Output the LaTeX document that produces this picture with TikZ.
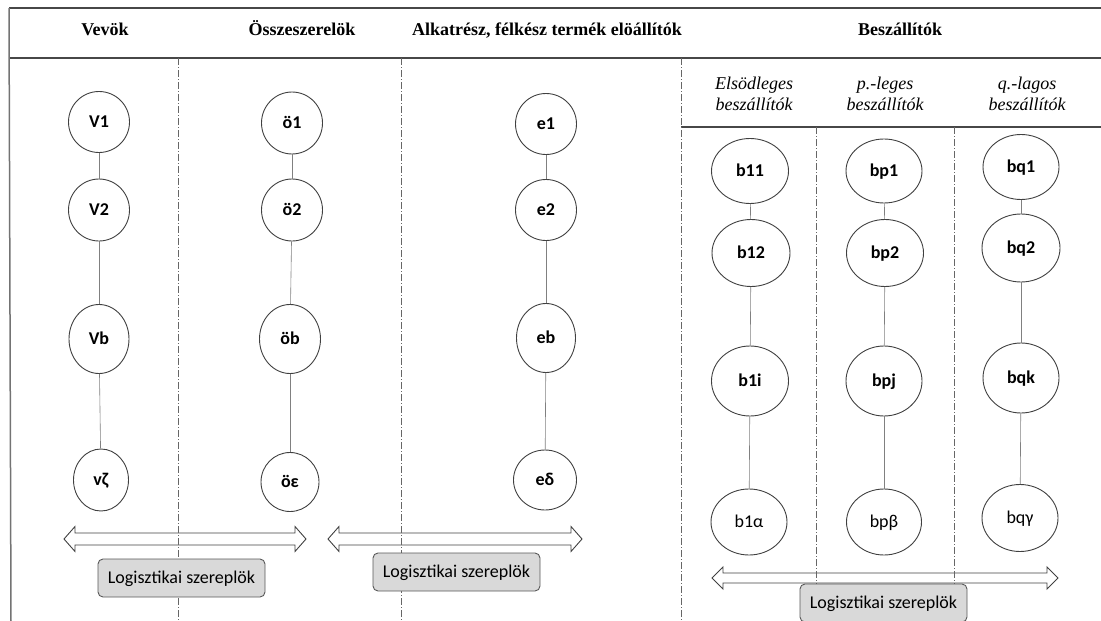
\documentclass[tikz,border=0pt]{standalone}
\usepackage{fontspec}
\setmainfont{Liberation Serif}
\newfontfamily\labelfont{Carlito}
\usetikzlibrary{shapes.geometric}

% hollow two-headed arrow: #1 left tip x, #2 right tip x, #3 y, #4 half shaft, #5 half head
\newcommand\flowarrow[5]{%
  \draw[flow] (#1,#3) -- ({#1+11},{#3-#5}) -- ({#1+11},{#3-#4}) -- ({#2-11},{#3-#4})
    -- ({#2-11},{#3-#5}) -- (#2,#3) -- ({#2-11},{#3+#5}) -- ({#2-11},{#3+#4})
    -- ({#1+11},{#3+#4}) -- ({#1+11},{#3+#5}) -- cycle;}

\tikzset{
  actor/.style={ellipse, draw=black!75, line width=0.9pt, inner sep=0pt,
    text height=14pt, text depth=3pt,
    font=\labelfont\bfseries\fontsize{18}{21}\selectfont},
  actorlight/.style={actor, font=\labelfont\fontsize{18}{21}\selectfont},
  link/.style={draw=black!50, line width=0.6pt},
  divider/.style={draw=black!60, line width=0.8pt, dash pattern=on 7pt off 2pt on 1pt off 2pt},
  frame/.style={draw=black!72, line width=1.2pt},
  colhead/.style={font=\bfseries\fontsize{18}{21}\selectfont, text height=14pt, text depth=3pt},
  subhead/.style={font=\itshape\fontsize{18}{21}\selectfont, align=center},
  logbox/.style={draw=black!65, fill=black!15, rounded corners=5pt, line width=0.9pt,
    minimum width=167pt, minimum height=38pt, inner sep=0pt,
    text height=14pt, text depth=3pt,
    font=\labelfont\fontsize{18}{21}\selectfont},
  flow/.style={draw=black!75, line width=0.9pt},
}

\begin{document}
\begin{tikzpicture}[x=1pt, y=-1pt]
\useasboundingbox (0,0) rectangle (1101,621);
\clip (0,0) rectangle (1101,621);

% table frame
\draw[frame] (9,8) -- (1101,8);
\draw[frame] (9,58) -- (1101,58);
\draw[frame] (681,127) -- (1101,127);
\draw[draw=black!55, line width=1.5pt] (9,8) -- (11,621);

% column headers
\node[colhead] (hV) at (105,30) {Vevök};
\node[colhead] (hO) at (302,30) {Összeszerelök};
\node[colhead] (hE) at (547,30) {Alkatrész, félkész termék elöállítók};
\node[colhead] (hB) at (900,30) {Beszállítók};

\node[subhead] (h1) at (754,94) {Elsödleges\\beszállítók};
\node[subhead] (h2) at (885,94) {p.-leges\\beszállítók};
\node[subhead] (h3) at (1027,94) {q.-lagos\\beszállítók};

% hollow arrows (dividers run across them)
\flowarrow{64}{306}{539}{6}{12.5}
\flowarrow{328}{582}{539}{6}{12.5}
\flowarrow{712}{1058}{578}{5}{11}

% column dividers
\draw[divider] (178,58) -- (178,621);
\draw[divider] (401,58) -- (401,621);
\draw[divider] (681,58) -- (681,621);
\draw[divider] (816,127) -- (816,621);
\draw[divider] (954,127) -- (954,621);

% customers
\node[actor, minimum width=61pt, minimum height=61pt] (V1) at (99,122) {V1};
\node[actor, minimum width=61pt, minimum height=62pt] (V2) at (99,210) {V2};
\node[actor, minimum width=60pt, minimum height=69pt] (Vb) at (99,339) {Vb};
\node[actor, minimum width=55pt, minimum height=62pt] (Vz) at (101,480) {vζ};

% assemblers
\node[actor, minimum width=61pt, minimum height=62pt] (O1) at (292,123) {ö1};
\node[actor, minimum width=61pt, minimum height=62pt] (O2) at (292,210) {ö2};
\node[actor, minimum width=61pt, minimum height=69pt] (Ob) at (290,339) {öb};
\node[actor, minimum width=58pt, minimum height=59pt] (Oe) at (290,482) {öε};

% component producers
\node[actor, minimum width=61pt, minimum height=61pt] (E1) at (546,124) {e1};
\node[actor, minimum width=61pt, minimum height=61pt] (E2) at (546,210) {e2};
\node[actor, minimum width=59pt, minimum height=69pt] (Eb) at (546,338) {eb};
\node[actor, minimum width=63pt, minimum height=60pt] (Ed) at (545,480) {eδ};

% primary suppliers
\node[actor, minimum width=77pt, minimum height=65pt] (B11) at (750,171) {b11};
\node[actor, minimum width=78pt, minimum height=67pt] (B12) at (751,253) {b12};
\node[actor, minimum width=77pt, minimum height=70pt] (B1i) at (750,381) {b1i};
\node[actorlight, minimum width=76pt, minimum height=66pt] (B1a) at (749,522) {b1α};

% p-th level suppliers
\node[actor, minimum width=76pt, minimum height=64pt] (Bp1) at (884,171) {bp1};
\node[actor, minimum width=77pt, minimum height=67pt] (Bp2) at (885,253) {bp2};
\node[actor, minimum width=76pt, minimum height=70pt] (Bpj) at (884,381) {bpj};
\node[actorlight, minimum width=75pt, minimum height=66pt] (Bpb) at (884,522) {bpβ};

% q-th level suppliers
\node[actor, minimum width=76pt, minimum height=65pt] (Bq1) at (1021,167) {bq1};
\node[actor, minimum width=78pt, minimum height=68pt] (Bq2) at (1021,248) {bq2};
\node[actor, minimum width=76pt, minimum height=70pt] (Bqk) at (1021,378) {bqk};
\node[actorlight, minimum width=76pt, minimum height=67pt] (Bqg) at (1020,518) {bqγ};

% chains
\foreach \a/\b in {V1/V2, V2/Vb, Vb/Vz, O1/O2, O2/Ob, Ob/Oe, E1/E2, E2/Eb, Eb/Ed,
                   B11/B12, B12/B1i, B1i/B1a, Bp1/Bp2, Bp2/Bpj, Bpj/Bpb,
                   Bq1/Bq2, Bq2/Bqk, Bqk/Bqg}
  \draw[link] (\a) -- (\b);

% logistics labels
\node[logbox] (L1) at (181.5,578) {Logisztikai szereplök};
\node[logbox] (L2) at (456.5,572) {Logisztikai szereplök};
\node[logbox] (L3) at (883.5,603) {Logisztikai szereplök};
\end{tikzpicture}
\end{document}
